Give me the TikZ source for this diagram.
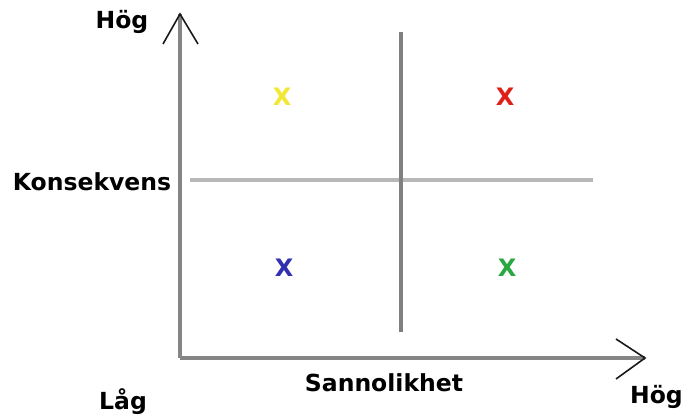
\documentclass[tikz,border=0pt]{standalone}
\usepackage{fontspec}
\setmainfont{DejaVu Sans}
\begin{document}
\begin{tikzpicture}[x=1pt,y=-1pt,
  lbl/.style={font=\bfseries\fontsize{23.5}{26}\selectfont, inner sep=0pt, text=black},
  riskmark/.style={font=\bfseries\fontsize{24}{26}\selectfont, inner sep=0pt},
  axisline/.style={draw=black!48, line width=3.2pt},
  tip/.style={draw=black!90, line width=1.6pt},
  divider/.style={line width=3.2pt}]
  \useasboundingbox[fill=white] (0,0) rectangle (684,417);

  % axes
  \coordinate (origin) at (180,358);
  \coordinate (ytop) at (180,14);
  \coordinate (xend) at (645,358);
  \draw[axisline] (origin) -- (ytop);
  \draw[axisline] (origin) -- (xend);
  \coordinate (yl) at (163,44);
  \coordinate (yr) at (198,44);
  \draw[tip] (yl) -- (ytop) -- (yr);
  \coordinate (xu) at (616,339);
  \coordinate (xd) at (616,379);
  \draw[tip] (xu) -- (xend) -- (xd);

  % quadrant dividers
  \coordinate (vtop) at (401,32);
  \coordinate (vbot) at (401,332);
  \coordinate (hl) at (190,180);
  \coordinate (hr) at (593,180);
  \draw[divider, draw=black!28] (hl) -- (hr);
  \draw[divider, draw=black!50] (vtop) -- (vbot);

  % axis labels
  \node[lbl] (hogy) at (122,22) {Hög};
  \node[lbl] (kons) at (92,182) {Konsekvens};
  \node[lbl] (lag) at (123,402) {Låg};
  \node[lbl] (sann) at (384,383) {Sannolikhet};
  \node[lbl, anchor=east] (hogx) at (683,397) {Hög};

  % risk marks
  \node[riskmark, text={rgb,255:red,242;green,232;blue,50}] (m1) at (282,97) {X};
  \node[riskmark, text={rgb,255:red,224;green,32;blue,24}] (m2) at (505,97) {X};
  \node[riskmark, text={rgb,255:red,48;green,48;blue,176}] (m3) at (284,268) {X};
  \node[riskmark, text={rgb,255:red,40;green,168;blue,64}] (m4) at (507,268) {X};
\end{tikzpicture}
\end{document}
